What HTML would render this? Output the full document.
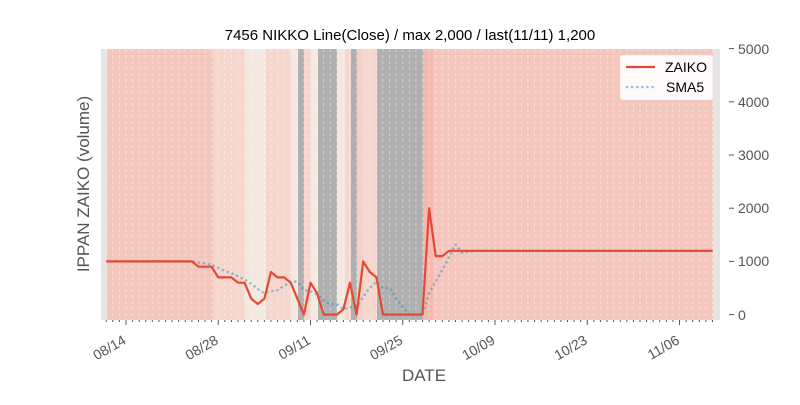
<!DOCTYPE html>
<html><head><meta charset="utf-8"><style>
body{margin:0;background:#fff;}
svg text{font-family:"Liberation Sans","DejaVu Sans",sans-serif;}
</style></head><body>
<svg id="s" width="800" height="400" xmlns="http://www.w3.org/2000/svg">
<rect x="0" y="0" width="800" height="400" fill="#fff"/>
<rect x="101" y="49" width="619" height="271" fill="#E5E5E5"/>
<g id="bands"></g>
<g id="grid"></g>
<polyline id="sma" fill="none" stroke="#348ABD" stroke-opacity="0.5" stroke-width="2.6" stroke-dasharray="0.1,5" stroke-linecap="round"/>
<polyline id="line" fill="none" stroke="#E24A33" stroke-width="2.2" stroke-linejoin="round"/>
<g id="ticks" stroke="#555" stroke-width="1"></g>
<text x="410" y="40" font-size="15" text-anchor="middle" fill="#000">7456 NIKKO Line(Close) / max 2,000 / last(11/11) 1,200</text>
<g font-size="14" fill="#555">
<text x="738" y="54">5000</text>
<text x="738" y="107">4000</text>
<text x="738" y="160">3000</text>
<text x="738" y="213">2000</text>
<text x="738" y="266">1000</text>
<text x="738" y="320">0</text>
</g>
<g id="xl" font-size="14" fill="#555"></g>
<text x="424" y="381" font-size="17" fill="#555" text-anchor="middle">DATE</text>
<text transform="translate(89,184) rotate(-90)" font-size="17" fill="#555" text-anchor="middle">IPPAN ZAIKO (volume)</text>
<rect x="620" y="55" width="93" height="45" rx="3" fill="#fff" fill-opacity="0.9" stroke="#ddd" stroke-width="0.5"/>
<line x1="626" y1="67" x2="655" y2="67" stroke="#E24A33" stroke-width="2.2"/>
<line x1="627" y1="87" x2="655" y2="87" stroke="#348ABD" stroke-opacity="0.5" stroke-width="2.6" stroke-dasharray="0.1,5" stroke-linecap="round"/>
<text x="665" y="72" font-size="14" fill="#000">ZAIKO</text>
<text x="666" y="92" font-size="14" fill="#000">SMA5</text>
</svg>
<script>
var NS="http://www.w3.org/2000/svg";
function el(t,a,p){var e=document.createElementNS(NS,t);for(var k in a)e.setAttribute(k,a[k]);document.getElementById(p).appendChild(e);return e;}
var bands=[[107,213,"#f3c7be"],[213,245,"#f5d7ce"],[245,266,"#f3e9e1"],[266,291,"#f5d7ce"],[291,298,"#f3e9e1"],[298,304,"#b0b0b0"],[304,311,"#f5d7ce"],[311,318,"#f3e9e1"],[318,337,"#b0b0b0"],[337,345,"#f3e9e1"],[345,351,"#f5d7ce"],[351,357,"#b0b0b0"],[357,364,"#f5d0c6"],[364,377,"#f5d7ce"],[377,423,"#b0b0b0"],[423,433,"#f4baae"],[433,713,"#f3c7be"]];
bands.forEach(function(b){el("rect",{x:b[0],y:49,width:b[1]-b[0],height:271,fill:b[2]},"bands");});
var x0=106.2,dx=6.59;
for(var d=0;d<=92;d++){var x=x0+d*dx;el("line",{x1:x,y1:49,x2:x,y2:320,stroke:"#fff","stroke-opacity":"0.5","stroke-width":"0.8","stroke-dasharray":"3,3"},"grid");
el("line",{x1:x,y1:320,x2:x,y2:(d%14==3)?325:322},"ticks");}
var lbl=["08/14","08/28","09/11","09/25","10/09","10/23","11/06"];
lbl.forEach(function(l,i){var x=x0+(3+14*i)*dx;var t=el("text",{transform:"translate("+(x+1)+",343) rotate(-30)","text-anchor":"end"},"xl");t.textContent=l;});
[0,1000,2000,3000,4000,5000].forEach(function(v){var y=314.6-v*0.0532;el("line",{x1:729,y1:y,x2:734,y2:y},"ticks");});
var v=[];for(d=0;d<14;d++)v.push(1000);
v=v.concat([900,900,900,700,700,700,600,600,300,200,300,800,700,700,600,300,0,600,400,0,0,0,100,600,0,1000,800,700,0,0,0,0,0,0,0,2000,1100,1100]);
while(v.length<93)v.push(1200);
function Y(a){return 314.6-a*0.0532;}
var p=[],q=[];
for(d=0;d<93;d++){p.push((x0+d*dx).toFixed(1)+","+Y(v[d]).toFixed(1));
if(d>=4){var s=(v[d]+v[d-1]+v[d-2]+v[d-3]+v[d-4])/5;q.push((x0+d*dx).toFixed(1)+","+Y(s).toFixed(1));}}
document.getElementById("line").setAttribute("points",p.join(" "));
document.getElementById("sma").setAttribute("points",q.join(" "));
</script>
</body></html>
